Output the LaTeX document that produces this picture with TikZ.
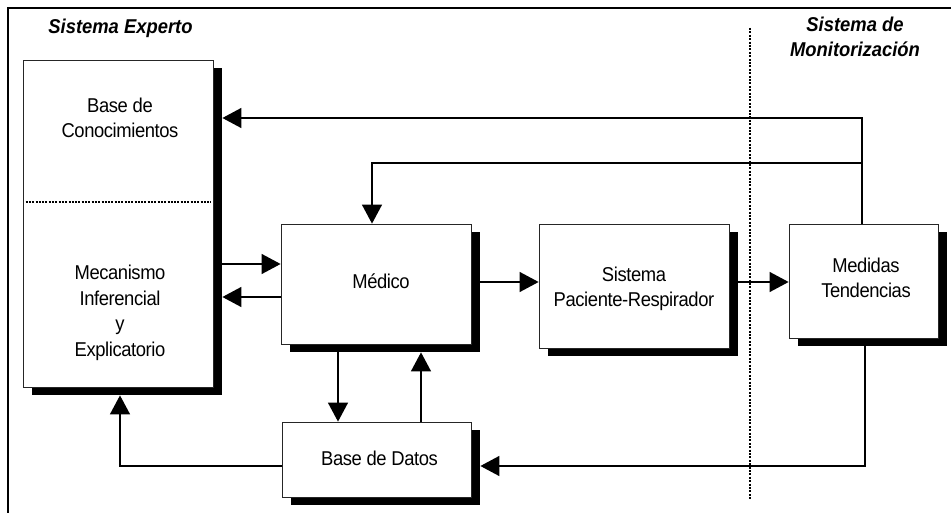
\documentclass[tikz,border=0pt]{standalone}
\usepackage{fontspec}
\setmainfont{Liberation Sans}[FakeStretch=0.92, LetterSpace=-2]
\newfontfamily\titlefont{Liberation Sans}[FakeStretch=0.92, BoldItalicFont={* Bold Italic}]
\usetikzlibrary{arrows.meta,shadows}
\begin{document}
\begin{tikzpicture}[x=1pt,y=-1pt,
  box/.style={draw=black!85, line width=0.8pt, fill=white, inner sep=0pt,
    general shadow={fill=black, shadow xshift=9pt, shadow yshift=-8pt}},
  lbl/.style={inner sep=0pt, align=center, font=\fontsize{20}{25}\selectfont},
  ttl/.style={inner sep=0pt, align=center, font=\titlefont\fontsize{20}{25}\selectfont\bfseries\itshape},
  arr/.style={line width=1.3pt, -{Triangle[length=19pt,width=20pt]}},
  sep/.style={line width=1.8pt, dash pattern=on 2pt off 1.4pt},
]
\useasboundingbox (0,0) rectangle (951,513);

% outer frame (only top and left edges fall inside the page)
\draw[line width=1.2pt] (8,513) -- (8,8) -- (951,8);

% titles
\node[ttl] (tse) at (120.5,28.1) {Sistema Experto};
\node[ttl] (tsm) at (855,36.9) {Sistema de\\Monitorización};

% separator between expert system and monitoring system
\coordinate (sepTop) at (750,28);
\coordinate (sepBot) at (750,500);
\draw[sep] (sepTop) -- (sepBot);

% boxes
\node[box, minimum width=190pt, minimum height=327pt] (kb) at (118,223.5) {};
\node[box, minimum width=190pt, minimum height=120pt] (med) at (376,284) {};
\node[box, minimum width=190pt, minimum height=124pt] (spr) at (634,286) {};
\node[box, minimum width=149pt, minimum height=114pt] (mt) at (863.5,281) {};
\node[box, minimum width=189pt, minimum height=75pt] (bd) at (376.5,459.5) {};

% shadow corners (outer edges of the drop shadows)
\coordinate (kbs) at ([shift={(9pt,-8pt)}]kb.south east);
\coordinate (meds) at ([shift={(9pt,-8pt)}]med.south east);
\coordinate (sprs) at ([shift={(9pt,-8pt)}]spr.south east);
\coordinate (mts) at ([shift={(9pt,-8pt)}]mt.south east);
\coordinate (bds) at ([shift={(9pt,-8pt)}]bd.south east);

% dotted division inside the expert system box
\coordinate (kbdiv) at (0,202);
\draw[line width=1.5pt, dash pattern=on 2pt off 1.3pt]
  ([xshift=3pt]kb.west |- kbdiv) -- ([xshift=-2pt]kb.east |- kbdiv);

% labels
\node[lbl] (lkb) at (120,118) {Base de\\Conocimientos};
\node[lbl, font=\fontsize{20}{25.8}\selectfont] (lmi) at (120,312.8) {Mecanismo\\Inferencial\\y\\Explicatorio};
\node[lbl] (lmed) at (381,281) {Médico};
\node[lbl] (lspr) at (634,289) {Sistema\\Paciente-Respirador};
\node[lbl] (lmt) at (866,278.2) {Medidas\\Tendencias};
\node[lbl] (lbd) at (379.5,458.4) {Base de Datos};

% helper levels for the connectors
\coordinate (y118) at (0,118);
\coordinate (y163) at (0,163);
\coordinate (y264) at (0,264);
\coordinate (y297) at (0,297);
\coordinate (y282) at (0,282);
\coordinate (y466) at (0,466);
\coordinate (x120) at (120,0);
\coordinate (x338) at (338,0);
\coordinate (x372) at (372,0);
\coordinate (x421) at (421,0);
\coordinate (x863) at (862,0);

% connectors
\draw[arr] (x863 |- mt.north) -- (x863 |- y118) -- (kbs |- y118);
\draw[arr] (x863 |- mt.north) -- (x863 |- y163) -- (x372 |- y163) -- (x372 |- med.north);
\draw[arr] (kbs |- y264) -- (med.west |- y264);
\draw[arr] (med.west |- y297) -- (kbs |- y297);
\draw[arr] (meds |- y282) -- (spr.west |- y282);
\draw[arr] (sprs |- y282) -- (mt.west |- y282);
\draw[arr] (x338 |- meds) -- (x338 |- bd.north);
\draw[arr] (x421 |- bd.north) -- (x421 |- meds);
\draw[arr] ([xshift=1.5pt]mt.south |- mts) -- ([xshift=1.5pt]mt.south |- y466) -- (bds |- y466);
\draw[arr] (bd.west |- y466) -- (x120 |- y466) -- (x120 |- kbs);
\end{tikzpicture}
\end{document}
